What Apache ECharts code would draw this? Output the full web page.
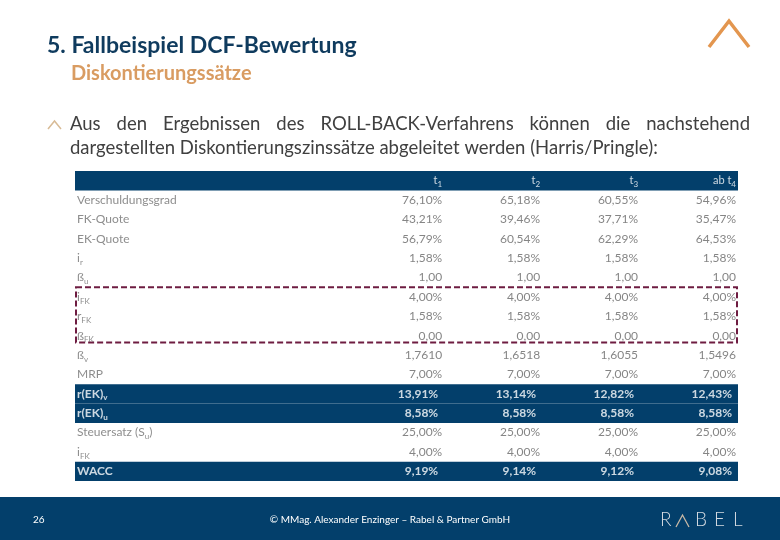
<!DOCTYPE html>
<html><head><meta charset="utf-8">
<script src="https://cdn.jsdelivr.net/npm/echarts@6/dist/echarts.min.js"></script>
<style>html,body{margin:0;padding:0;background:#fff}#c{width:780px;height:540px}</style>
</head><body><div id="c"></div>
<script>
// ---- data ----
const headers = ["t{s|1}", "t{s|2}", "t{s|3}", "ab t{s|4}"];
const rowLabels = ["Verschuldungsgrad", "FK-Quote", "EK-Quote", "i{s|r}", "ß{s|u}", "i{s|FK}", "r{s|FK}", "ß{s|FK}", "ß{s|v}", "MRP", "r(EK){s|v}", "r(EK){s|u}", "Steuersatz (S{s|u})", "i{s|FK}", "WACC"];
const rowFormats = ["%", "%", "%", "%", "2", "%", "%", "2", "4", "%", "%", "%", "%", "%", "%"];
const t1 = [76.10, 43.21, 56.79, 1.58, 1.00, 4.00, 1.58, 0.00, 1.7610, 7.00, 13.91, 8.58, 25.00, 4.00, 9.19];
const t2 = [65.18, 39.46, 60.54, 1.58, 1.00, 4.00, 1.58, 0.00, 1.6518, 7.00, 13.14, 8.58, 25.00, 4.00, 9.14];
const t3 = [60.55, 37.71, 62.29, 1.58, 1.00, 4.00, 1.58, 0.00, 1.6055, 7.00, 12.82, 8.58, 25.00, 4.00, 9.12];
const t4 = [54.96, 35.47, 64.53, 1.58, 1.00, 4.00, 1.58, 0.00, 1.5496, 7.00, 12.43, 8.58, 25.00, 4.00, 9.08];
const highlightRows = [10, 11, 14];
const boxedRows = [5, 7];

const title = "5. Fallbeispiel DCF-Bewertung";
const subtitle = "Diskontierungssätze";
const bodyLine1 = "Aus den Ergebnissen des ROLL-BACK-Verfahrens können die nachstehend";
const bodyLine2 = "dargestellten Diskontierungszinssätze abgeleitet werden (Harris/Pringle):";
const footerText = "© MMag. Alexander Enzinger – Rabel & Partner GmbH";
const pageNo = "26";

// ---- build ----
const cols = [t1, t2, t3, t4];
const XMIN = -2.77, XMAX = 4;
const FONT = "Lato, 'Open Sans', sans-serif";
const cats = [];
for (let i = 0; i <= rowLabels.length; i++) cats.push(String(i));

function fmt(v, f) {
  if (f === "%") return v.toFixed(2).replace('.', ',') + '%';
  return v.toFixed(Number(f)).replace('.', ',');
}
function richFor(color, bold) {
  return { s: { fontSize: 8, verticalAlign: 'bottom', lineHeight: 9, fontFamily: FONT, color: color, fontWeight: bold ? 'bold' : 'normal' } };
}

const cells = [];
headers.forEach((h, c) => {
  cells.push({
    value: [c + 1, 0],
    label: { show: true, position: 'left', distance: 2, formatter: h, color: '#fff', fontSize: 11,
      fontFamily: FONT, lineHeight: 15, rich: richFor('#fff', false) }
  });
});
rowLabels.forEach((lab, r) => {
  const hl = highlightRows.indexOf(r) >= 0;
  const color = hl ? '#ffffff' : '#707070';
  cells.push({
    value: [XMIN, r + 1],
    label: { show: true, position: 'right', distance: 2, formatter: lab, color: color, fontSize: 12,
      fontWeight: hl ? 'bold' : 'normal', fontFamily: FONT, lineHeight: 16, rich: richFor(color, hl) }
  });
  cols.forEach((col, c) => {
    cells.push({
      value: [c + 1, r + 1],
      label: { show: true, position: 'left', distance: hl ? 6 : 2, formatter: fmt(col[r], rowFormats[r]),
        color: hl ? '#ffffff' : '#666666', fontSize: 12, fontWeight: hl ? 'bold' : 'normal', fontFamily: FONT }
    });
  });
});

const bandData = [[0, 0]].concat(highlightRows.map(r => [0, r + 1]));

// justify first body line
const ctx = document.createElement('canvas').getContext('2d');
const bodyFont = "18.5px Lato";
ctx.font = bodyFont;
const words = bodyLine1.split(' ');
const widths = words.map(w => ctx.measureText(w).width);
const L = 70, R = 750;
const gap = (R - L - widths.reduce((a, b) => a + b, 0)) / (words.length - 1);
const bodyGraphics = [];
let xx = L;
words.forEach((w, i) => {
  bodyGraphics.push({ type: 'text', x: xx, y: 124, style: { text: w, font: bodyFont, fill: '#404040', verticalAlign: 'middle' } });
  xx += widths[i] + gap;
});
bodyGraphics.push({ type: 'text', x: L, y: 148, style: { text: bodyLine2, font: bodyFont, fill: '#404040', verticalAlign: 'middle' } });

const chart = echarts.init(document.getElementById('c'), null, { renderer: 'canvas' });
chart.setOption({
  animation: false,
  grid: { left: 75, right: 42, top: 171, bottom: 59 },
  xAxis: { type: 'value', min: XMIN, max: XMAX, show: false },
  yAxis: { type: 'category', inverse: true, data: cats, show: false },
  series: [
    {
      type: 'custom', z: 1, data: bandData, silent: true,
      renderItem: function (params, api) {
        const r = api.value(1);
        const a = api.coord([XMIN, r]);
        const b = api.coord([XMAX, r]);
        const h = api.size([0, 1])[1];
        return { type: 'rect', shape: { x: a[0], y: a[1] - h / 2, width: b[0] - a[0], height: h },
          style: { fill: '#033f6b' } };
      }
    },
    {
      type: 'custom', z: 2, data: [[0, boxedRows[0] + 1, boxedRows[1] + 1]], silent: true,
      renderItem: function (params, api) {
        const a = api.coord([XMIN, api.value(1)]);
        const b = api.coord([XMAX, api.value(2)]);
        const h = api.size([0, 1])[1];
        return { type: 'rect', shape: { x: a[0] + 1, y: a[1] - h / 2, width: b[0] - a[0] - 2, height: b[1] - a[1] + h - 3 },
          style: { fill: null, stroke: '#6e1c41', lineWidth: 2, lineDash: [6, 3] } };
      }
    },
    { type: 'scatter', z: 3, symbolSize: 0, data: cells, silent: true }
  ],
  graphic: [
    { type: 'text', x: 47, y: 46, style: { text: title, font: "bold 23px Lato", fill: '#0f3b5e', verticalAlign: 'middle' } },
    { type: 'text', x: 71, y: 74, style: { text: subtitle, font: "bold 20px Lato", fill: '#d99c62', verticalAlign: 'middle' } },
    { type: 'polyline', shape: { points: [[709, 47], [729, 21], [749, 47]] }, style: { stroke: '#e3964f', lineWidth: 3.5, fill: null } },
    { type: 'polyline', shape: { points: [[48, 129], [54.5, 121], [61, 129]] }, style: { stroke: '#d8bb96', lineWidth: 1.5, fill: null } },
    ...bodyGraphics,
    { type: 'rect', shape: { x: 0, y: 497, width: 780, height: 43 }, style: { fill: '#033f6b' } },
    { type: 'text', x: 33, y: 520, style: { text: pageNo, font: "10px Lato", fill: '#ffffff', verticalAlign: 'middle' } },
    { type: 'text', x: 390, y: 520, style: { text: footerText, font: "10px Lato", fill: '#ffffff', align: 'center', verticalAlign: 'middle' } },
    { type: 'text', x: 660, y: 520, style: { text: 'R', font: "300 19px Lato", fill: '#d5dbe2', verticalAlign: 'middle' } },
    { type: 'polyline', shape: { points: [[676, 527], [682.5, 515], [689, 527]] }, style: { stroke: '#c9b9a6', lineWidth: 1.3, fill: null } },
    { type: 'text', x: 695, y: 520, style: { text: 'B', font: "300 19px Lato", fill: '#d5dbe2', verticalAlign: 'middle' } },
    { type: 'text', x: 714, y: 520, style: { text: 'E', font: "300 19px Lato", fill: '#d5dbe2', verticalAlign: 'middle' } },
    { type: 'text', x: 733, y: 520, style: { text: 'L', font: "300 19px Lato", fill: '#d5dbe2', verticalAlign: 'middle' } }
  ]
});
</script></body></html>
